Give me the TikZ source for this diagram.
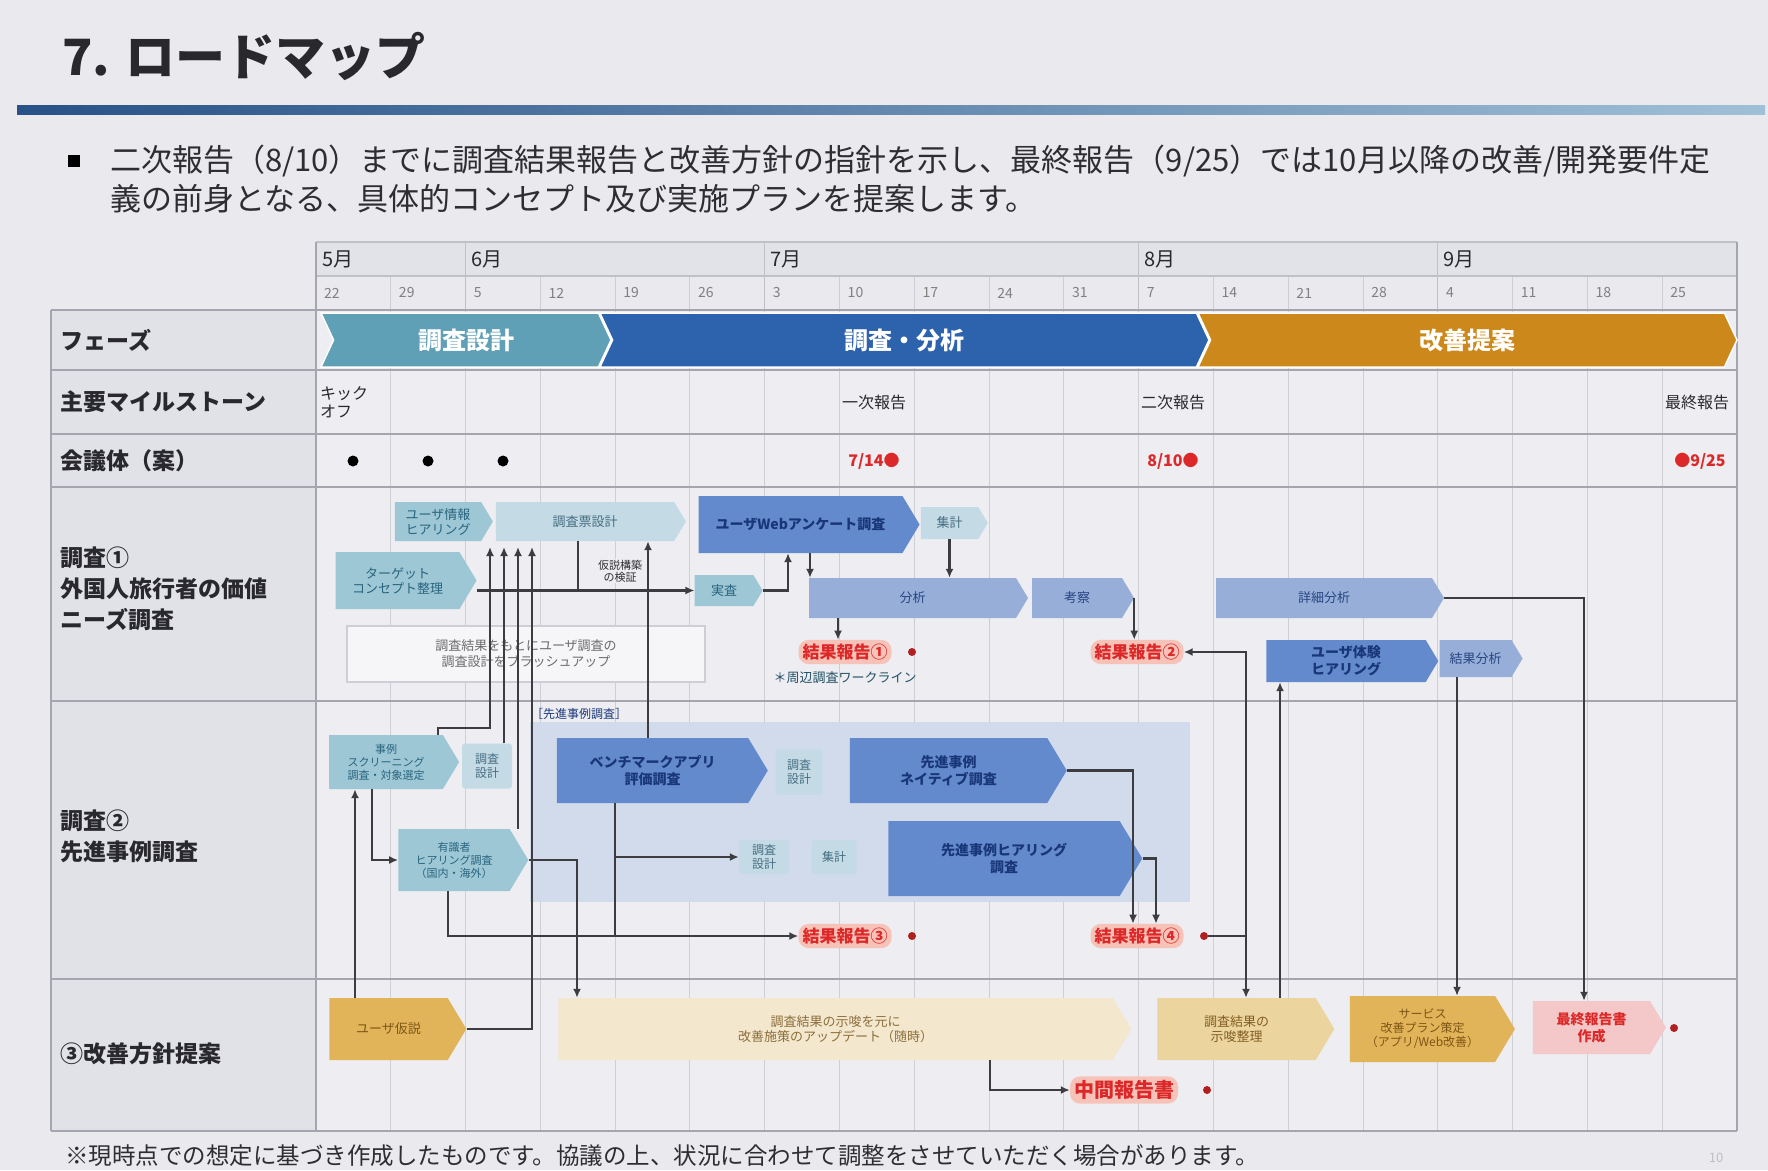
\documentclass[tikz,border=0pt]{standalone}
\usepackage{fontspec}
\setmainfont{Noto Sans CJK JP}
\usetikzlibrary{shapes.symbols,arrows.meta}
\definecolor{pagebg}{RGB}{233,233,238}
\definecolor{cellbg}{RGB}{237,237,242}
\definecolor{lblbg}{RGB}{225,226,231}
\definecolor{hdrbg}{RGB}{226,227,232}
\definecolor{gridc}{RGB}{206,207,213}
\definecolor{rowline}{RGB}{165,166,173}
\definecolor{titlec}{RGB}{40,40,45}
\definecolor{bodyc}{RGB}{45,45,50}
\definecolor{phTeal}{RGB}{95,160,182}
\definecolor{phBlue}{RGB}{45,98,172}
\definecolor{phGold}{RGB}{205,136,28}
\definecolor{cTeal}{RGB}{158,199,214}
\definecolor{cTealTx}{RGB}{40,100,125}
\definecolor{cPale}{RGB}{196,218,229}
\definecolor{cPaleTx}{RGB}{70,110,130}
\definecolor{cBlue}{RGB}{100,138,206}
\definecolor{cBlueTx}{RGB}{25,55,120}
\definecolor{cMid}{RGB}{150,174,216}
\definecolor{cMidTx}{RGB}{40,70,130}
\definecolor{bgtwo}{RGB}{210,219,236}
\definecolor{cGold}{RGB}{226,180,90}
\definecolor{cGoldTx}{RGB}{125,85,20}
\definecolor{cGoldB}{RGB}{236,212,158}
\definecolor{cGoldBTx}{RGB}{130,95,35}
\definecolor{cCream}{RGB}{243,231,205}
\definecolor{cCreamTx}{RGB}{140,110,60}
\definecolor{cPink}{RGB}{244,200,200}
\definecolor{cRed}{RGB}{220,40,40}
\definecolor{cRedBg}{RGB}{247,195,185}
\definecolor{linec}{RGB}{60,60,65}
\definecolor{rulel}{RGB}{40,82,135}
\definecolor{ruler}{RGB}{160,192,215}
\newcommand\myfs[2]{\fontsize{#1}{#2}\selectfont}
\newcommand\mytask[7]{\node[#6, minimum width={(#4)-(#2)}, minimum height={(#5)-(#3)}] (#1) at ({((#2)+(#4))/2},{((#3)+(#5))/2}) {#7};}
\begin{document}
\begin{tikzpicture}[x=1pt,y=-1pt,
  phase/.style={signal, signal to=east, signal from=west, signal pointer angle=130, inner sep=0pt, draw=white, line width=1.5pt, text=white, font=\bfseries\myfs{24}{28}},
  tkbase/.style={signal, signal to=east, signal pointer angle=118, inner sep=1pt, align=center, font=\myfs{13}{15}},
  tteal/.style={tkbase, fill=cTeal, text=cTealTx},
  tpale/.style={tkbase, fill=cPale, text=cPaleTx},
  tblue/.style={tkbase, fill=cBlue, text=cBlueTx, font=\bfseries\myfs{14}{17}},
  tmid/.style={tkbase, fill=cMid, text=cMidTx},
  tgold/.style={tkbase, fill=cGold, text=cGoldTx},
  tgoldb/.style={tkbase, fill=cGoldB, text=cGoldBTx},
  tcream/.style={tkbase, fill=cCream, text=cCreamTx},
  tpink/.style={tkbase, fill=cPink, text=cRed, font=\bfseries\myfs{14}{17}},
  spale/.style={rectangle, rounded corners=3pt, fill=cPale, text=cPaleTx, inner sep=1pt, align=center, font=\myfs{12}{14}},
  redlbl/.style={rectangle, rounded corners=10pt, fill=cRedBg, text=cRed, inner sep=4pt, font=\bfseries\myfs{17}{19}},
  reddot/.style={circle, fill=cRed!80!black, minimum size=8pt, inner sep=0pt},
  conn/.style={draw=linec, line width=2.2pt, -{Latex[length=9pt,width=8pt]}},
  plain/.style={draw=linec, line width=2.2pt},
  rowlbl/.style={anchor=west, inner sep=0pt, align=left, text=titlec, font=\bfseries\myfs{23}{31}},
  mlbl/.style={anchor=west, inner sep=0pt, text=titlec, font=\myfs{20}{22}},
  dlbl/.style={anchor=west, inner sep=0pt, text=gray, font=\myfs{14}{16}},
  mstone/.style={inner sep=0pt, text=titlec, font=\myfs{16}{18}, align=left},
  redtx/.style={inner sep=0pt, text=cRed, font=\bfseries\myfs{16}{18}}
]
\useasboundingbox (0,0) rectangle (1768,1170);
\fill[pagebg] (0,0) rectangle (1768,1170);

% title
\node[anchor=west, inner sep=0pt, font=\bfseries\myfs{50}{56}, text=titlec] (title) at (62,56) {7. ロードマップ};
\shade[left color=rulel, right color=ruler] (17,105) rectangle (1765,114);
\node[fill=black, minimum size=12pt, inner sep=0pt] (bsq) at (74,161) {};
\node[anchor=west, inner sep=0pt, font=\myfs{31}{35}, text=bodyc] (b1) at (110,161) {二次報告（8/10）までに調査結果報告と改善方針の指針を示し、最終報告（9/25）では10月以降の改善/開発要件定};
\node[anchor=west, inner sep=0pt, font=\myfs{31}{35}, text=bodyc] (b2) at (110,199) {義の前身となる、具体的コンセプト及び実施プランを提案します。};

% table backgrounds
\fill[hdrbg] (316,242) rectangle (1737,276);
\fill[cellbg!60!hdrbg] (316,276) rectangle (1737,310);
\fill[cellbg] (316,310) rectangle (1737,1131);
\fill[lblbg] (51,310) rectangle (316,1131);
\foreach \i in {1,...,18} {
  \draw[gridc, line width=1pt] ({316+\i*74.79},276) -- ({316+\i*74.79},1131);
}
\foreach \i in {2,6,11,15} {
  \draw[rowline!70, line width=1.2pt] ({316+\i*74.79},242) -- ({316+\i*74.79},310);
}
\draw[rowline!70, line width=1.2pt] (316,242) -- (1737,242);
\draw[rowline!70, line width=1.2pt] (316,276) -- (1737,276);
\foreach \y in {310,370,434,487,701,979,1131} {
  \draw[rowline, line width=2.5pt] (51,\y) -- (1737,\y);
}
\draw[rowline, line width=2pt] (51,310) -- (51,1131);
\draw[rowline, line width=2pt] (316,242) -- (316,1131);
\draw[rowline, line width=2pt] (1737,242) -- (1737,1131);

% months and dates
\node[mlbl] (m5) at (322,259) {5月};
\node[mlbl] (m6) at (471,259) {6月};
\node[mlbl] (m7) at (770,259) {7月};
\node[mlbl] (m8) at (1144,259) {8月};
\node[mlbl] (m9) at (1443,259) {9月};
\foreach \d [count=\i from 0] in {22,29,5,12,19,26,3,10,17,24,31,7,14,21,28,4,11,18,25} {
  \node[dlbl] (d\i) at ({316+\i*74.79+8},293) {\d};
}

% row labels
\node[rowlbl] (lp) at (60,340) {フェーズ};
\node[rowlbl] (lm) at (60,402) {主要マイルストーン};
\node[rowlbl] (lk) at (60,461) {会議体（案）};
\node[rowlbl] (l1) at (60,589) {調査①\\外国人旅行者の価値\\ニーズ調査};
\node[rowlbl] (l2) at (60,836) {調査②\\先進事例調査};
\node[rowlbl] (l3) at (60,1054) {③改善方針提案};

% phases
\mytask{ph1}{321}{313}{611}{367}{phase, fill=phTeal}{調査設計}
\mytask{ph2}{600}{313}{1209}{367}{phase, fill=phBlue}{調査・分析}
\mytask{ph3}{1198}{313}{1737}{367}{phase, fill=phGold}{改善提案}

% milestones
\node[mstone, anchor=west] (ms0) at (320,402) {キック\\オフ};
\node[mstone] (ms1) at (874,402) {一次報告};
\node[mstone] (ms2) at (1173,402) {二次報告};
\node[mstone] (ms3) at (1697,402) {最終報告};

% meetings
\node[circle, fill=black, minimum size=11pt, inner sep=0pt] (md1) at (353,461) {};
\node[circle, fill=black, minimum size=11pt, inner sep=0pt] (md2) at (428,461) {};
\node[circle, fill=black, minimum size=11pt, inner sep=0pt] (md3) at (503,461) {};
\node[redtx] (mt1) at (874,461) {7/14●};
\node[redtx] (mt2) at (1173,461) {8/10●};
\node[redtx] (mt3) at (1700,461) {●9/25};

% row 1
\mytask{n11}{389}{502}{487}{541}{tteal}{ユーザ情報\\ヒアリング}
\mytask{n12}{490}{502}{680}{541}{tpale}{調査票設計}
\mytask{n13}{327}{552}{468}{609}{tteal}{ターゲット\\コンセプト整理}
\mytask{n14}{690}{496}{911}{553}{tblue}{ユーザWebアンケート調査}
\mytask{n15}{916}{507}{983}{539}{tpale}{集計}
\mytask{n16}{690}{575}{758}{606}{tteal}{実査}
\mytask{n17}{803}{578}{1022}{618}{tmid}{分析}
\mytask{n18}{1026}{578}{1128}{618}{tmid}{考察}
\mytask{n19}{1210}{578}{1438}{618}{tmid}{詳細分析}
\mytask{n1a}{1260}{640}{1432}{682}{tblue}{ユーザ体験\\ヒアリング}
\mytask{n1b}{1434}{640}{1517}{677}{tmid}{結果分析}
\node[rectangle, draw=gridc, line width=1.2pt, fill=cellbg!50!white, minimum width=358pt, minimum height=56pt, align=center, text=bodyc!70, font=\myfs{13}{16}] (n1c) at (526,654) {調査結果をもとにユーザ調査の\\調査設計をブラッシュアップ};
\node[redlbl] (r1) at (845,652) {結果報告①};
\node[reddot] (r1d) at (912,652) {};
\node[inner sep=0pt, text=cTealTx!80!black, font=\myfs{13}{15}] (r1n) at (845,678) {＊周辺調査ワークライン};
\node[redlbl] (r2) at (1137,652) {結果報告②};

% row 2
\node[rectangle, fill=bgtwo, minimum width=660pt, minimum height=180pt, inner sep=0pt] (bg2) at (860,812) {};
\node[anchor=west, inner sep=0pt, text=cBlueTx, font=\myfs{12}{14}] (lbl2) at (531,714) {［先進事例調査］};
\mytask{n21}{321}{735}{451}{789}{tteal, font=\myfs{11}{13}}{事例\\スクリーニング\\調査・対象選定}
\node[spale, minimum width=50pt, minimum height=45pt] (n22) at (487,766) {調査\\設計};
\mytask{n23}{547}{738}{758}{803}{tblue}{ベンチマークアプリ\\評価調査}
\node[spale, minimum width=47pt, minimum height=45pt] (n24) at (799,772) {調査\\設計};
\mytask{n25}{840}{738}{1057}{803}{tblue}{先進事例\\ネイティブ調査}
\mytask{n26}{389}{829}{519}{891}{tteal, font=\myfs{11}{13}}{有識者\\ヒアリング調査\\（国内・海外）}
\node[spale, minimum width=50pt, minimum height=34pt] (n27) at (764,857) {調査\\設計};
\node[spale, minimum width=45pt, minimum height=34pt] (n28) at (834,857) {集計};
\mytask{n29}{877}{821}{1131}{896}{tblue}{先進事例ヒアリング\\調査}
\node[redlbl] (r3) at (845,936) {結果報告③};
\node[reddot] (r3d) at (912,936) {};
\node[redlbl] (r4) at (1137,936) {結果報告④};
\node[reddot] (r4d) at (1204,936) {};

% row 3
\mytask{n31}{320}{998}{457}{1060}{tgold}{ユーザ仮説}
\mytask{n32}{549}{998}{1122}{1060}{tcream}{調査結果の示唆を元に\\改善施策のアップデート（随時）}
\mytask{n33}{1148}{998}{1325}{1060}{tgoldb}{調査結果の\\示唆整理}
\mytask{n34}{1340}{996}{1505}{1062}{tgold, font=\myfs{12}{14}}{サービス\\改善プラン策定\\（アプリ/Web改善）}
\mytask{n35}{1525}{1001}{1658}{1054}{tpink}{最終報告書\\作成}
\node[reddot] (n35d) at (1674,1028) {};
\node[redlbl, font=\bfseries\myfs{20}{22}] (r5) at (1124,1090) {中間報告書};
\node[reddot] (r5d) at (1207,1090) {};

% helper coordinates
\coordinate (tb) at (0,547);
\coordinate (k355) at (355,0);
\coordinate (k372) at (372,0);
\coordinate (k438) at (438,0);
\coordinate (k448) at (448,0);
\coordinate (k490) at (490,728);
\coordinate (k504) at (504,0);
\coordinate (k518) at (518,0);
\coordinate (k532) at (532,0);
\coordinate (k577) at (577,0);
\coordinate (k578) at (578,0);
\coordinate (k615) at (615,0);
\coordinate (k648) at (648,0);
\coordinate (k788) at (788,0);
\coordinate (k810) at (810,0);
\coordinate (k838) at (838,0);
\coordinate (k990) at (990,0);
\coordinate (k1133) at (1133,0);
\coordinate (k1156) at (1156,0);
\coordinate (k1246) at (1246,0);
\coordinate (k1280) at (1280,0);
\coordinate (k1457) at (1457,0);
\coordinate (k1584) at (1584,0);

% connectors
\draw[conn] (n31.north -| k355) -- (n21.south -| k355);
\draw[conn] (n21.south -| k372) |- (n26.west);
\draw[conn] (n21.north -| k438) |- (k490) -- (tb -| k490);
\draw[conn] (n22.north -| k504) -- (tb -| k504);
\draw[conn] (n26.north -| k518) -- (tb -| k518);
\draw[conn] (n31.east) -| (tb -| k532);
\draw[conn] (n13.east |- n16.west) -- (n16.west);
\draw[plain] (n12.south -| k578) -- (k578 |- n16.west);
\node[inner sep=1pt, fill=cellbg, text=bodyc, font=\myfs{11}{12}, align=center] (hyp) at (620,571) {仮説構築\\の検証};
\draw[conn] (n16.east) -| (n14.south -| k788);
\draw[conn] (n14.south -| k810) -- (n17.north -| k810);
\draw[conn] (n15.south) -- (n17.north -| n15.south);
\draw[conn] (n17.south -| k838) -- (r1.north -| k838);
\draw[conn] (n18.east) -- (r2.north -| n18.east);
\draw[conn, {Latex[length=9pt,width=8pt]}-{Latex[length=9pt,width=8pt]}] (r2.east) -| (n33.north -| k1246);
\draw[plain] (r4d.east) -- (r4d.east -| k1246);
\draw[conn] (n33.north -| k1280) -- (n1a.south -| k1280);
\draw[conn] (n1b.south -| k1457) -- (n34.north -| k1457);
\draw[conn] (n19.east) -| (n35.north -| k1584);
\draw[conn] (n25.east) -| (r4.north -| k1133);
\draw[conn] (n29.east) -| (r4.north -| k1156);
\draw[conn] (n32.south -| k990) |- (r5.west);
\draw[conn] (n26.east) -| (n32.north -| k577);
\draw[plain] (n23.south -| k615) -- (k615 |- r3.west);
\draw[conn] (k615 |- n27.west) -- (n27.west);
\draw[conn] (n26.south -| k448) |- (r3.west);
\draw[conn] (n23.north -| k648) -- (n12.south -| k648);

% footnote
\node[anchor=west, inner sep=0pt, font=\myfs{23.5}{26}, text=bodyc] (fn) at (65,1156) {※現時点での想定に基づき作成したものです。協議の上、状況に合わせて調整をさせていただく場合があります。};
\node[inner sep=0pt, font=\myfs{13}{15}, text=gray!50] (pg) at (1716,1158) {10};
\end{tikzpicture}
\end{document}
